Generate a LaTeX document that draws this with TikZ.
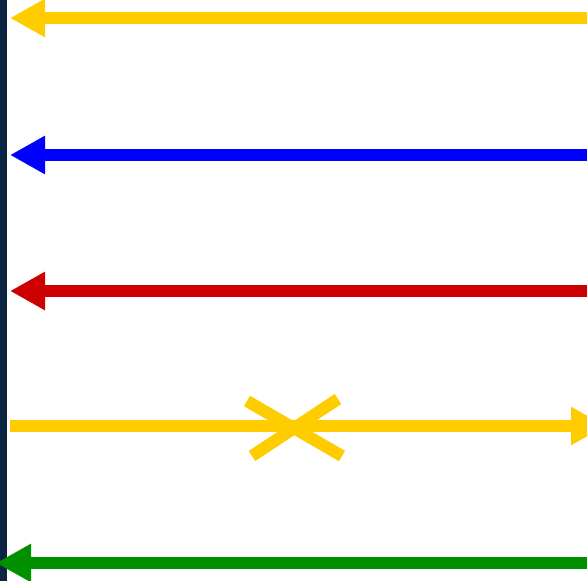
\documentclass[tikz,border=0pt]{standalone}
\usetikzlibrary{arrows.meta}
\definecolor{lifeline}{HTML}{0B2442}
\definecolor{msgyellow}{HTML}{FFCC00}
\definecolor{msgblue}{HTML}{0000FF}
\definecolor{msgred}{HTML}{CC0000}
\definecolor{msggreen}{HTML}{009000}
\tikzset{
  msg/.style={line width=12pt, -{Triangle[length=35pt,width=36pt]}},
  cross/.style={line width=12pt, draw=msgyellow}
}
\begin{document}
\begin{tikzpicture}[x=1pt,y=-1pt]
\useasboundingbox (0,0) rectangle (587,581);
\clip (0,0) rectangle (587,581);
\coordinate (lt) at (3.5,-5);
\coordinate (lb) at (3.5,590);
\draw[line width=7pt, draw=lifeline] (lt) -- (lb);
% messages
\coordinate (a1) at (600,18);   \coordinate (b1) at (10,18);
\coordinate (a2) at (600,155);  \coordinate (b2) at (10,155);
\coordinate (a3) at (600,291);  \coordinate (b3) at (10,291);
\coordinate (a4) at (10,426);   \coordinate (b4) at (606,426);
\coordinate (a5) at (600,563);  \coordinate (b5) at (-4,563);
\draw[msg, draw=msgyellow, fill=msgyellow] (a1) -- (b1);
\draw[msg, draw=msgblue, fill=msgblue] (a2) -- (b2);
\draw[msg, draw=msgred, fill=msgred] (a3) -- (b3);
\draw[msg, draw=msgyellow, fill=msgyellow] (a4) -- (b4);
\draw[msg, draw=msggreen, fill=msggreen] (a5) -- (b5);
% lost-message cross
\coordinate (c1) at (247,401); \coordinate (c2) at (342,456);
\coordinate (c3) at (252,456); \coordinate (c4) at (338,399);
\draw[cross] (c1) -- (c2);
\draw[cross] (c3) -- (c4);
\end{tikzpicture}
\end{document}
